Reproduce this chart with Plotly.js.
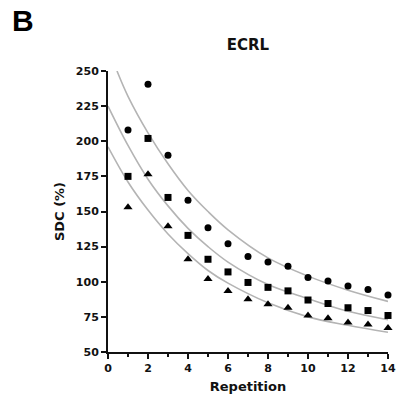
<!DOCTYPE html>
<html>
<head>
<meta charset="utf-8">
<script src="https://cdn.plot.ly/plotly-3.0.1.min.js"></script>
<style>html,body{margin:0;padding:0;background:#fff;}#chart{width:398px;height:405px;}</style>
</head>
<body>
<div id="chart"></div>
<script>
var repetition = [1,2,3,4,5,6,7,8,9,10,11,12,13,14];
var circleVals = [208,240.5,190,158,138.5,127,118,114,111,103,100.5,97,94.5,90.5];
var squareVals = [175,202,160,133,116,107,99.5,96,93.5,87,84.5,81.5,79.5,76];
var triangleVals = [153,176.5,139.5,116,102,93.5,87.5,84,81.5,76,74,71,69.5,67];

var topCurveX = [0.45,1,2,3,4,5,6,8,10,12,14];
var topCurveY = [250,232,206,184,165,150,137,117,104,94,86];
var midCurveX = [0,1,2,3,4,5,6,8,10,12,14];
var midCurveY = [225,197,173,154,138,125,114,98,88,79,73];
var botCurveX = [0,1,2,3,4,5,6,8,10,12,14];
var botCurveY = [196,171,151,134,120,108,99,85,75,69,64];

var xTicks = [0,2,4,6,8,10,12,14];
var yTicks = [50,75,100,125,150,175,200,225,250];

var FONT = 'DejaVu Sans, Arial, sans-serif';
var curveStyle = {color:'#b4b4b4', width:1.6, shape:'spline'};

var traces = [
  {x: topCurveX, y: topCurveY, mode:'lines', line: curveStyle, hoverinfo:'skip'},
  {x: midCurveX, y: midCurveY, mode:'lines', line: curveStyle, hoverinfo:'skip'},
  {x: botCurveX, y: botCurveY, mode:'lines', line: curveStyle, hoverinfo:'skip'},
  {x: repetition, y: circleVals, mode:'markers', marker:{symbol:'circle', size:7, color:'#000'}, cliponaxis:false},
  {x: repetition, y: squareVals, mode:'markers', marker:{symbol:'square', size:7, color:'#000'}, cliponaxis:false},
  {x: repetition, y: triangleVals, mode:'markers', marker:{symbol:'triangle-up', size:8, color:'#000'}, cliponaxis:false}
];

var axisCommon = {
  showgrid:false, zeroline:false, showline:true, linecolor:'#111', linewidth:2,
  ticks:'outside', ticklen:5, tickwidth:2, tickcolor:'#111',
  tickfont:{family:FONT, size:11, color:'#111', weight:'bold'}
};

var layout = {
  width:398, height:405,
  margin:{l:108, r:10, t:71, b:53},
  paper_bgcolor:'#fff', plot_bgcolor:'#fff',
  showlegend:false,
  title:{text:'<b>ECRL</b>', font:{family:FONT, size:15, color:'#111'}, x:0.5, xref:'paper', y:1-45/405, yref:'container', yanchor:'middle'},
  xaxis: Object.assign({}, axisCommon, {
    range:[0,14], tickmode:'array', tickvals:xTicks, ticktext:xTicks.map(String),
    minor:{dtick:1, ticks:'outside', ticklen:3, tickwidth:2, tickcolor:'#111', showgrid:false},
    title:{text:'<b>Repetition</b>', font:{family:FONT, size:13, color:'#111'}, standoff:8}
  }),
  yaxis: Object.assign({}, axisCommon, {
    range:[50,250], tickmode:'array', tickvals:yTicks, ticktext:yTicks.map(String),
    title:{text:'<b>SDC (%)</b>', font:{family:FONT, size:13, color:'#111'}, standoff:8}
  }),
  annotations:[
    {text:'<b>B</b>', xref:'paper', yref:'paper', x:(23-108)/280, y:(352-21)/281, xanchor:'center', yanchor:'middle', showarrow:false, font:{family:'Liberation Sans, Arial, sans-serif', size:30, color:'#000'}}
  ]
};

Plotly.newPlot('chart', traces, layout, {staticPlot:true, displayModeBar:false});
</script>
</body>
</html>
